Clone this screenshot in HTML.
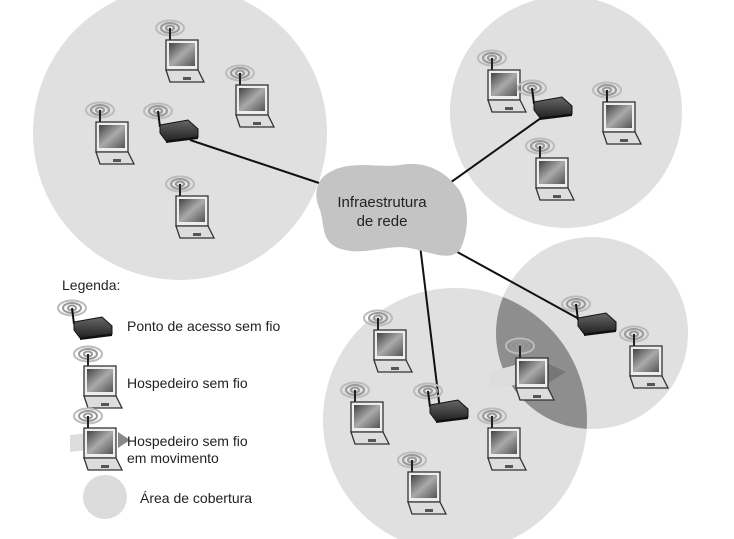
<!DOCTYPE html>
<html><head><meta charset="utf-8"><style>
html,body{margin:0;padding:0;background:#fff;}
svg{display:block;}
text{font-family:"Liberation Sans","DejaVu Sans",sans-serif;fill:#222;}
</style></head><body>
<svg width="734" height="539" viewBox="0 0 734 539" xmlns="http://www.w3.org/2000/svg">
<defs>
<linearGradient id="scr" x1="0" y1="0" x2="1" y2="1"><stop offset="0" stop-color="#444"/><stop offset="0.5" stop-color="#aaa"/><stop offset="1" stop-color="#555"/></linearGradient>
<linearGradient id="apg" x1="0" y1="0" x2="0" y2="1"><stop offset="0" stop-color="#666"/><stop offset="1" stop-color="#222"/></linearGradient>
<g id="waves" fill="none" stroke="#999" stroke-width="2">
<ellipse cx="0" cy="0" rx="4" ry="2.5"/><ellipse cx="0" cy="0" rx="9" ry="5"/><ellipse cx="0" cy="0" rx="14" ry="7.5" stroke="#bbb"/>
</g>
<g id="lap">
<use href="#waves" x="0" y="-2"/>
<line x1="0" y1="-2" x2="0" y2="12" stroke="#222" stroke-width="2"/>
<rect x="-4" y="10" width="32" height="30" fill="#eee" stroke="#333" stroke-width="1.3"/>
<rect x="-1" y="13" width="26" height="23" fill="url(#scr)"/>
<polygon points="-4,40 28,40 34,52 0,52" fill="#ddd" stroke="#333" stroke-width="1.3"/>
<rect x="13" y="47" width="8" height="3" fill="#555"/>
</g>
<g id="ap">
<use href="#waves" x="0" y="-4"/>
<line x1="0" y1="-4" x2="2" y2="12" stroke="#111" stroke-width="2"/>
<polygon points="2,10 30,5 40,14 40,22 8,26 2,18" fill="url(#apg)" stroke="#111"/>
<polygon points="8,26 40,22 40,24 8,28" fill="#111"/>
</g>
</defs>
<circle cx="180" cy="133" r="147" fill="#e0e0e0"/>
<circle cx="566" cy="112" r="116" fill="#e0e0e0"/>
<circle cx="592" cy="333" r="96" fill="#e0e0e0"/>
<circle cx="455" cy="420" r="132" fill="#e0e0e0"/>
<clipPath id="cl"><circle cx="592" cy="333" r="96"/></clipPath>
<circle cx="455" cy="420" r="132" fill="#8e8e8e" clip-path="url(#cl)"/>
<polygon points="490,372 515,365 515,385 490,388" fill="#ddd"/>
<polygon points="545,362 566,372 545,385" fill="#777"/>
<line x1="190" y1="140" x2="325" y2="185" stroke="#111" stroke-width="2"/>
<line x1="555" y1="108" x2="440" y2="190" stroke="#111" stroke-width="2"/>
<line x1="420" y1="245" x2="440" y2="410" stroke="#111" stroke-width="2"/>
<line x1="450" y1="248" x2="590" y2="325" stroke="#111" stroke-width="2"/>
<path d="M330,172 C350,160 380,168 400,165 C425,160 445,172 455,185 C470,200 470,230 460,250 C450,262 430,252 410,248 C390,244 365,255 345,250 C320,245 325,225 320,210 C312,192 318,178 330,172Z" fill="#c4c4c4"/>
<text x="382" y="207" font-size="15" text-anchor="middle">Infraestrutura</text>
<text x="382" y="226" font-size="15" text-anchor="middle">de rede</text>
<use href="#lap" x="170" y="30"/>
<use href="#lap" x="240" y="75"/>
<use href="#lap" x="100" y="112"/>
<use href="#lap" x="180" y="186"/>
<use href="#ap" x="158" y="115"/>
<use href="#lap" x="492" y="60"/>
<use href="#lap" x="607" y="92"/>
<use href="#lap" x="540" y="148"/>
<use href="#ap" x="532" y="92"/>
<use href="#ap" x="576" y="308"/>
<use href="#lap" x="520" y="348"/>
<use href="#lap" x="634" y="336"/>
<use href="#lap" x="378" y="320"/>
<use href="#lap" x="355" y="392"/>
<use href="#lap" x="412" y="462"/>
<use href="#lap" x="492" y="418"/>
<use href="#ap" x="428" y="395"/>
<text x="62" y="290" font-size="14">Legenda:</text>
<use href="#ap" x="72" y="312"/>
<text x="127" y="331" font-size="14">Ponto de acesso sem fio</text>
<use href="#lap" x="88" y="356"/>
<text x="127" y="388" font-size="14">Hospedeiro sem fio</text>
<polygon points="70,435 88,433 88,450 70,452" fill="#ddd"/>
<polygon points="118,432 130,440 118,448" fill="#888"/>
<use href="#lap" x="88" y="418"/>
<text x="127" y="446" font-size="14">Hospedeiro sem fio</text>
<text x="127" y="463" font-size="14">em movimento</text>
<circle cx="105" cy="497" r="22" fill="#dcdcdc"/>
<text x="140" y="503" font-size="14">Área de cobertura</text>
</svg>
</body></html>
